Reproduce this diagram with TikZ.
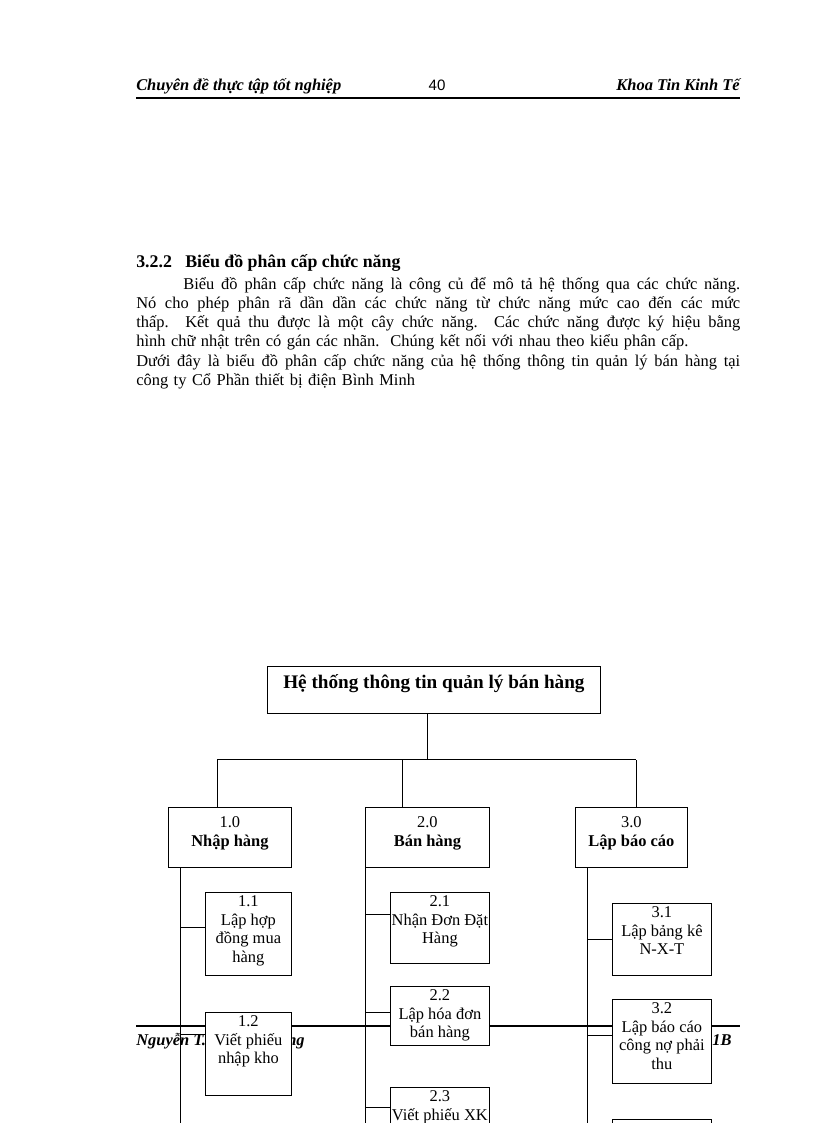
\documentclass[tikz,border=0pt]{standalone}
\usepackage{fontspec}
\setmainfont{Liberation Serif}
\newfontfamily\pagenumfont{Liberation Sans}
\usetikzlibrary{positioning,calc}
\newcommand\pxu{0.7295pt}
\newcommand\bodyfont{\fontsize{12}{14.05}\selectfont}
\newcommand\boxfont{\fontsize{12}{13.6}\selectfont}
% one justified line of the paragraph
\newcommand\jline[2][440.6pt]{\makebox[#1][s]{\spaceskip=0pt\xspaceskip=0pt\relax#2}}
\tikzset{
  fbox/.style={draw, fill=white, line width=0.6pt, inner sep=0pt, anchor=north west},
  ftext/.style={anchor=north, align=center, inner sep=0pt, font=\boxfont},
  ftop/.style={ftext, yshift=-7pt, font=\fontsize{12}{13.8}\selectfont},
  fsub/.style={ftext, yshift=-2.5pt},
  ftitle/.style={ftext, yshift=-6pt, font=\fontsize{14}{16}\selectfont\bfseries},
  link/.style={line width=0.6pt},
  rulebar/.style={line width=1.6pt},
  runner/.style={anchor=base west, inner sep=0pt, font=\bodyfont\bfseries\itshape},
}
\begin{document}
\begin{tikzpicture}[x=\pxu, y=-\pxu]
\fill[white] (0,0) rectangle (816,1123);
\useasboundingbox (0,0) rectangle (816,1123);
\coordinate (pagebot) at (0,1123);

% page head
\node[runner] (headl) at (136,90) {Chuyên đề thực tập tốt nghiệp};
\node[anchor=base, inner sep=0pt, font=\pagenumfont\fontsize{11}{13}\selectfont] (headn) at (437,90) {40};
\node[runner, anchor=base east] (headr) at (740,90) {Khoa Tin Kinh Tế};
\draw[rulebar] (136,98) -- (740,98);

% section text
\node[anchor=base west, inner sep=0pt, font=\fontsize{13}{15}\selectfont\bfseries] (secno) at (136,267) {3.2.2};
\node[anchor=base west, inner sep=0pt, font=\fontsize{13}{15}\selectfont\bfseries] (sectitle) at (185,267) {Biểu đồ phân cấp chức năng};
\node[anchor=base west, inner sep=0pt, text width=440.6pt, align=left, font=\bodyfont] (para) at (136,289) {%
\hspace*{34.3pt}\jline[406.3pt]{Biểu đồ phân cấp chức năng là công củ để mô tả hệ thống qua các chức năng.}\\
\jline{Nó cho phép phân rã dần dần các chức năng từ chức năng mức cao đến các mức}\\
\jline{thấp. Kết quả thu được là một cây chức năng. Các chức năng được ký hiệu bằng}\\
hình chữ nhật trên có gán các nhãn.\ \ Chúng kết nối với nhau theo kiểu phân cấp.\\
\jline{Dưới đây là biểu đồ phân cấp chức năng của hệ thống thông tin quản lý bán hàng tại}\\
công ty Cổ Phần thiết bị điện Bình Minh};

% page foot (under the chart)
\draw[rulebar] (136,1026) -- (740,1026);
\node[runner] (footl) at (136,1045) {Nguyễn T.};
\node[runner] (footm) at (287,1045) {ng};
\node[runner] (footr) at (712,1045) {1B};

% chart
\node[fbox, minimum width=333*\pxu, minimum height=47*\pxu,
  label={[ftitle]north:{Hệ thống thông tin quản lý bán hàng}}] (root) at (267,666) {};

\node[fbox, minimum width=123*\pxu, minimum height=60*\pxu,
  label={[ftop]north:{1.0\\\textbf{Nhập hàng}}}] (f10) at (168,807) {};
\node[fbox, minimum width=124*\pxu, minimum height=60*\pxu,
  label={[ftop]north:{2.0\\\textbf{Bán hàng}}}] (f20) at (365,807) {};
\node[fbox, minimum width=112*\pxu, minimum height=60*\pxu,
  label={[ftop]north:{3.0\\\textbf{Lập báo cáo}}}] (f30) at (575,807) {};

\draw[link] ([xshift=-4.74pt]root.south) -- ++(0,46) coordinate (hub);
\draw[link] (f10.north west) ++(49,0) coordinate (d1) -- (d1 |- hub);
\draw[link] (f20.north west) ++(37,0) coordinate (d2) -- (d2 |- hub);
\draw[link] (f30.north west) ++(61,0) coordinate (d3) -- (d3 |- hub);
\draw[link] (d1 |- hub) -- (d3 |- hub);

\draw[link] (f10.south west) ++(12,0) coordinate (s1) -- (s1 |- pagebot);
\draw[link] (f20.south west) coordinate (s2) -- (s2 |- pagebot);
\draw[link] (f30.south west) ++(12,0) coordinate (s3) -- (s3 |- pagebot);

\node[fbox, minimum width=86*\pxu, minimum height=83*\pxu,
  label={[fsub]north:{1.1\\Lập hợp\\đồng mua\\hàng}}] (f11) at (205,892) {};
\node[fbox, minimum width=86*\pxu, minimum height=83*\pxu,
  label={[fsub]north:{1.2\\Viết phiếu\\nhập kho}}] (f12) at (205,1012) {};
\node[fbox, minimum width=99*\pxu, minimum height=71*\pxu,
  label={[fsub]north:{2.1\\Nhận Đơn Đặt\\Hàng}}] (f21) at (390,892) {};
\node[fbox, minimum width=99*\pxu, minimum height=59*\pxu,
  label={[fsub]north:{2.2\\Lập hóa đơn\\bán hàng}}] (f22) at (390,986) {};
\node[fbox, minimum width=99*\pxu, minimum height=70*\pxu,
  label={[fsub]north:{2.3\\Viết phiếu XK}}] (f23) at (390,1087) {};
\node[fbox, minimum width=99*\pxu, minimum height=72*\pxu,
  label={[fsub]north:{3.1\\Lập bảng kê\\N-X-T}}] (f31) at (612,903) {};
\node[fbox, minimum width=99*\pxu, minimum height=84*\pxu,
  label={[fsub]north:{3.2\\Lập báo cáo\\công nợ phải\\thu}}] (f32) at (612,999) {};
\node[fbox, minimum width=99*\pxu, minimum height=60*\pxu] (f33) at (612,1119) {};

\draw[link] (f11.north west) ++(0,35) coordinate (k11) -- (k11 -| s1);
\draw[link] (f12.north west) ++(0,22) coordinate (k12) -- (k12 -| s1);
\draw[link] (f21.north west) ++(0,22) coordinate (k21) -- (k21 -| s2);
\draw[link] (f22.north west) ++(0,26) coordinate (k22) -- (k22 -| s2);
\draw[link] (f23.north west) ++(0,20) coordinate (k23) -- (k23 -| s2);
\draw[link] (f31.north west) ++(0,36) coordinate (k31) -- (k31 -| s3);
\draw[link] (f32.north west) ++(0,36) coordinate (k32) -- (k32 -| s3);
\end{tikzpicture}
\end{document}
